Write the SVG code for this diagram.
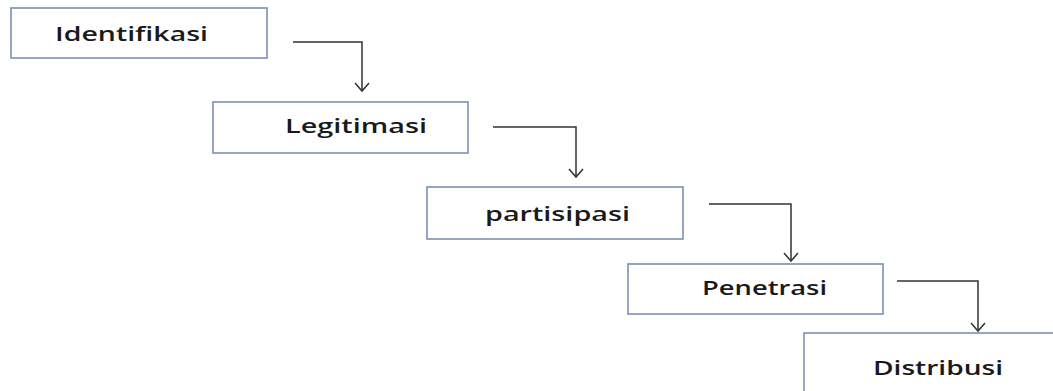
<svg xmlns="http://www.w3.org/2000/svg" width="1053" height="391" viewBox="0 0 1053 391">
<style>
.box{fill:#fff;stroke:#7a90b2;stroke-width:1.6}
.lbl{font-family:"Open Sans","Liberation Sans",sans-serif;font-size:19.5px;font-weight:600;fill:#1a1a1a}
.conn{fill:none;stroke:#333;stroke-width:1.5}
.head{fill:none;stroke:#333;stroke-width:1.5}
</style>
<rect width="1053" height="391" fill="#fff"/>
<g id="connectors">
<path class="conn" d="M293 42 H362 V91"/>
<path class="head" d="M355 83 L362 91 L369 83"/>
<path class="conn" d="M493 127 H576 V177"/>
<path class="head" d="M569 169 L576 177 L583 169"/>
<path class="conn" d="M709 204 H791 V261"/>
<path class="head" d="M784 253 L791 261 L798 253"/>
<path class="conn" d="M897 281 H978 V331"/>
<path class="head" d="M971 323 L978 331 L985 323"/>
</g>
<g id="n1"><rect class="box" x="11" y="8" width="256" height="50"/><text class="lbl" x="55" y="41" textLength="153" lengthAdjust="spacingAndGlyphs">Identifikasi</text></g>
<g id="n2"><rect class="box" x="213" y="102" width="255" height="51"/><text class="lbl" x="285" y="133" textLength="142" lengthAdjust="spacingAndGlyphs">Legitimasi</text></g>
<g id="n3"><rect class="box" x="427" y="187" width="256" height="52"/><text class="lbl" x="485" y="221" textLength="145" lengthAdjust="spacingAndGlyphs">partisipasi</text></g>
<g id="n4"><rect class="box" x="628" y="264" width="255" height="50"/><text class="lbl" x="702" y="295" textLength="125" lengthAdjust="spacingAndGlyphs">Penetrasi</text></g>
<g id="n5"><rect class="box" x="804" y="333" width="260" height="70"/><text class="lbl" x="873" y="375" textLength="130" lengthAdjust="spacingAndGlyphs">Distribusi</text></g>
</svg>
